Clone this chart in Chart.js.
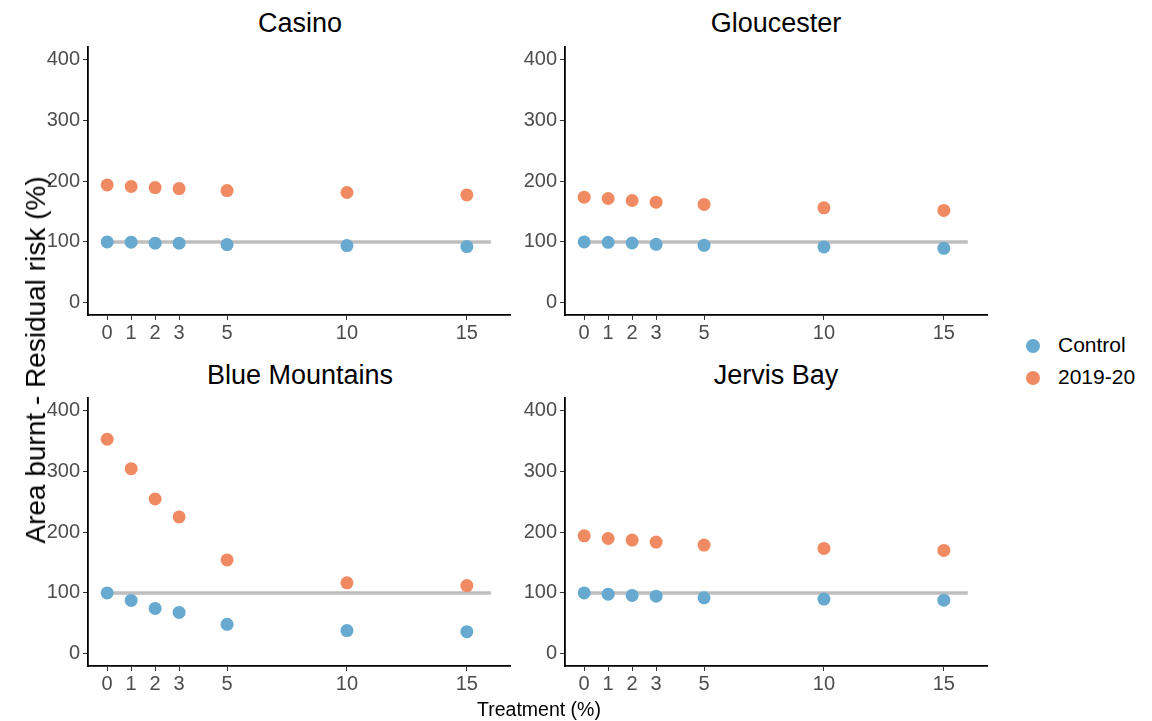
<!DOCTYPE html>
<html>
<head>
<meta charset="utf-8">
<script src="https://cdn.jsdelivr.net/npm/chart.js@4.4.1/dist/chart.umd.min.js"></script>
<style>
  body { margin: 0; background: #fff; font-family: "Liberation Sans", Arial, sans-serif; }
  #wrap { position: relative; width: 1152px; height: 721px; overflow: hidden; }
  .panel { position: absolute; }
  .title { position: absolute; font-size: 27px; color: #000; text-align: center; width: 400px; }
  #ytitle { position: absolute; left: 36px; top: 360px; font-size: 28px; white-space: nowrap;
            transform: translate(-50%, -50%) rotate(-90deg); }
  #xtitle { position: absolute; left: 539px; top: 709px; font-size: 19.5px; transform: translate(-50%, -50%); }
  .leg { position: absolute; left: 1026px; font-size: 21px; }
  .leg span { display: inline-block; width: 14px; height: 14px; border-radius: 50%; vertical-align: -1px; margin-right: 18px; }
</style>
</head>
<body>
<div id="wrap">
  <div class="title" style="left:100px;top:8px">Casino</div>
  <div class="title" style="left:576px;top:8px">Gloucester</div>
  <div class="title" style="left:100px;top:360px">Blue Mountains</div>
  <div class="title" style="left:576px;top:360px">Jervis Bay</div>
  <canvas class="panel" id="c0"></canvas>
  <canvas class="panel" id="c1"></canvas>
  <canvas class="panel" id="c2"></canvas>
  <canvas class="panel" id="c3"></canvas>
  <div id="ytitle">Area burnt - Residual risk (%)</div>
  <div id="xtitle">Treatment (%)</div>
  <div class="leg" style="top:333px"><span style="background:#67a9cf"></span>Control</div>
  <div class="leg" style="top:365px"><span style="background:#ef8a62"></span>2019-20</div>
</div>
<script>
const treatment = [0, 1, 2, 3, 5, 10, 15];
const yTicks = [0, 100, 200, 300, 400];

const casinoControl = [100, 99.5, 98, 98, 95.6, 94, 92.3];
const casinoFire = [193.5, 191, 189.2, 187.6, 184.3, 181.1, 177.2];

const gloucesterControl = [100, 99.3, 98.2, 96, 94.4, 91.7, 89.5];
const gloucesterFire = [173.4, 171.3, 168, 165.3, 161.5, 156, 151.7];

const blueMtnControl = [100, 87.6, 74.5, 68, 48.4, 38.1, 36.4];
const blueMtnFire = [352.3, 303.9, 254.2, 224.8, 154.1, 116.5, 112.1];

const jervisControl = [100, 97.9, 95.8, 94.6, 91.9, 89.8, 88.1];
const jervisFire = [193.7, 189.3, 186.7, 183.4, 178.6, 173.1, 169.8];

const refLine = [100, 100];
const refX = [0, 16];

const panels = [
    { id: "c0", left: 38, top: 32, control: casinoControl, fire: casinoFire },
    { id: "c1", left: 515, top: 32, control: gloucesterControl, fire: gloucesterFire },
    { id: "c2", left: 38, top: 383, control: blueMtnControl, fire: blueMtnFire },
    { id: "c3", left: 515, top: 383, control: jervisControl, fire: jervisFire }
];

const plotW = 422;   // x from -0.8 to 16.8
const plotH = 270;   // y from -20 to 420
const yW = 50;
const xH = 40;
const padTop = 13;
const padRight = 8;

function toPoints(values) {
    return values.map((v, i) => ({ x: treatment[i], y: v }));
}

panels.forEach(p => {

    const canvas = document.getElementById(p.id);
    const w = yW + plotW + padRight;
    const h = padTop + plotH + xH;
    canvas.style.left = p.left + "px";
    canvas.style.top = p.top + "px";
    canvas.width = w;
    canvas.height = h;
    canvas.style.width = w + "px";
    canvas.style.height = h + "px";

    new Chart(canvas, {
        type: "scatter",
        data: {
            datasets: [
                {
                    label: "Control",
                    data: toPoints(p.control),
                    backgroundColor: "#67a9cf",
                    borderWidth: 0,
                    pointRadius: 6.5,
                    order: 1
                },
                {
                    label: "2019-20",
                    data: toPoints(p.fire),
                    backgroundColor: "#ef8a62",
                    borderWidth: 0,
                    pointRadius: 6.5,
                    order: 2
                },
                {
                    type: "line",
                    label: "ref",
                    data: refLine.map((v, i) => ({ x: refX[i], y: v })),
                    borderColor: "#bebebe",
                    borderWidth: 3.5,
                    pointRadius: 0,
                    order: 3
                }
            ]
        },
        options: {
            responsive: false,
            animation: false,
            layout: { padding: { top: padTop, right: padRight, left: 0, bottom: 0 } },
            plugins: { legend: { display: false }, tooltip: { enabled: false } },
            scales: {
                x: {
                    type: "linear",
                    min: -0.8,
                    max: 16.8,
                    afterBuildTicks: s => { s.ticks = treatment.map(v => ({ value: v })); },
                    afterFit: s => { s.height = xH; },
                    grid: { display: true, drawOnChartArea: false, drawTicks: true, tickLength: 5, color: "#333", lineWidth: 1 },
                    border: { display: true, color: "#000", width: 1.8 },
                    ticks: { color: "#4d4d4d", font: { family: "Liberation Sans", size: 20 }, padding: 1, maxRotation: 0, autoSkip: false }
                },
                y: {
                    min: -20,
                    max: 420,
                    afterBuildTicks: s => { s.ticks = yTicks.map(v => ({ value: v })); },
                    afterFit: s => { s.width = yW; },
                    grid: { display: true, drawOnChartArea: false, drawTicks: true, tickLength: 5, color: "#333", lineWidth: 1 },
                    border: { display: true, color: "#000", width: 1.8 },
                    ticks: { color: "#4d4d4d", font: { family: "Liberation Sans", size: 20 }, padding: 3 }
                }
            }
        }
    });
});
</script>
</body>
</html>
